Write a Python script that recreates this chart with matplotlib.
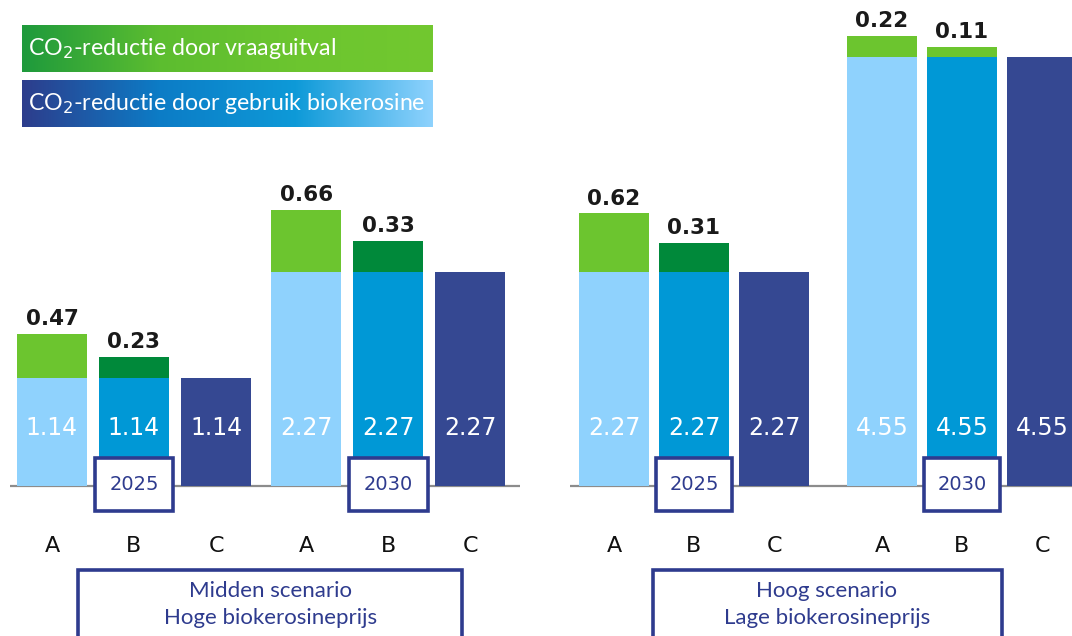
import numpy as np
import matplotlib.pyplot as plt
from matplotlib.patches import Rectangle
from matplotlib.colors import LinearSegmentedColormap

# data
letters = ['A', 'B', 'C', 'A', 'B', 'C']
years = ['2025', '2030']
legend_labels = [r'CO$_2$-reductie door vraaguitval', r'CO$_2$-reductie door gebruik biokerosine']
scen_left = ['Midden scenario', 'Hoge biokerosineprijs']
scen_right = ['Hoog scenario', 'Lage biokerosineprijs']
bio_left = [1.14, 1.14, 1.14, 2.27, 2.27, 2.27]
vraag_left = [0.47, 0.23, 0, 0.66, 0.33, 0]
bio_right = [2.27, 2.27, 2.27, 4.55, 4.55, 4.55]
vraag_right = [0.62, 0.31, 0, 0.22, 0.11, 0]

# colours
light_blue = '#8fd2fd'
mid_blue = '#0098d6'
navy = '#354892'
light_green = '#6cc52f'
dark_green = '#00893a'
box_blue = '#2e3b8e'
blue_cols = [light_blue, mid_blue, navy] * 2
green_left = [light_green, dark_green, light_green, light_green, dark_green, light_green]
green_right = [light_green, dark_green, light_green, light_green, light_green, light_green]

fig = plt.figure(figsize=(10.72, 6.36), dpi=100)
ylim = (-150 / 94.3, 486 / 94.3)


def panel(rect, xlim, pos, width, bio, vraag, gcols, scen, scen_x, scen_span):
    ax = fig.add_axes(rect)
    ax.set_xlim(xlim)
    ax.set_ylim(ylim)
    ax.axis('off')
    ax.axhline(0, color='#8c8c8c', lw=1.6, zorder=1)
    ax.bar(pos, bio, width=width, color=blue_cols, zorder=2)
    ax.bar(pos, vraag, bottom=bio, width=width, color=gcols, zorder=2)
    for i in range(len(pos)):
        ax.text(pos[i], 0.62, '%.2f' % bio[i], color='white', fontsize=17,
                ha='center', va='center', zorder=3)
        if vraag[i] > 0:
            ax.text(pos[i], bio[i] + vraag[i] + 0.05, '%.2f' % vraag[i], color='#1a1a1a',
                    fontsize=15.5, fontweight='bold', ha='center', va='bottom')
        ax.text(pos[i], -0.64, letters[i], color='#111111', fontsize=16,
                ha='center', va='center')
    # year boxes under the B bars
    for j, yr in enumerate(years):
        xb = pos[3 * j + 1]
        ax.add_patch(Rectangle((xb - 0.48, -0.26), 0.96, 0.56, facecolor='white',
                               edgecolor=box_blue, lw=2.6, zorder=5))
        ax.text(xb, 0.02, yr, color=box_blue, fontsize=14, ha='center', va='center', zorder=6)
    # scenario box
    ax.add_patch(Rectangle((scen_span[0], -2.0), scen_span[1] - scen_span[0], 1.11,
                           facecolor='white', edgecolor=box_blue, lw=2.6, zorder=5))
    ax.text(scen_x, -1.11, scen[0], color=box_blue, fontsize=16, family='Lato',
            ha='center', va='center', zorder=6)
    ax.text(scen_x, -1.40, scen[1], color=box_blue, fontsize=16, family='Lato',
            ha='center', va='center', zorder=6)
    return ax


panel([10 / 1072, 0, 510 / 1072, 1], (-0.512, 5.707), [0, 1, 2, 3.1, 4.1, 5.1], 0.85,
      bio_left, vraag_left, green_left, scen_left, 2.66, (0.317, 5.0))
panel([570 / 1072, 0, 502 / 1072, 1], (-0.55, 5.725), [0, 1, 2, 3.35, 4.35, 5.35], 0.875,
      bio_right, vraag_right, green_right, scen_right, 2.66, (0.49, 4.85))

# legend boxes with gradients
grad = np.linspace(0, 1, 256).reshape(1, -1)
cmaps = [LinearSegmentedColormap.from_list('g', ['#1e9a3c', '#5cbd30', '#6cc52f', '#72c82f']),
         LinearSegmentedColormap.from_list('b', ['#2d3d8c', '#0c7cc6', '#0e9ad8', '#8ed2fd'])]
tops = [25, 80]
for k in range(2):
    lax = fig.add_axes([22 / 1072, (636 - tops[k] - 47) / 636, 411 / 1072, 47 / 636])
    lax.imshow(grad, aspect='auto', cmap=cmaps[k], extent=(0, 1, 0, 1))
    lax.set_xlim(0, 1)
    lax.set_ylim(0, 1)
    lax.axis('off')
    lax.text(0.015, 0.5, legend_labels[k], color='white', fontsize=16.7, family='Lato',
             ha='left', va='center')

fig.savefig('out.png', dpi=100)
